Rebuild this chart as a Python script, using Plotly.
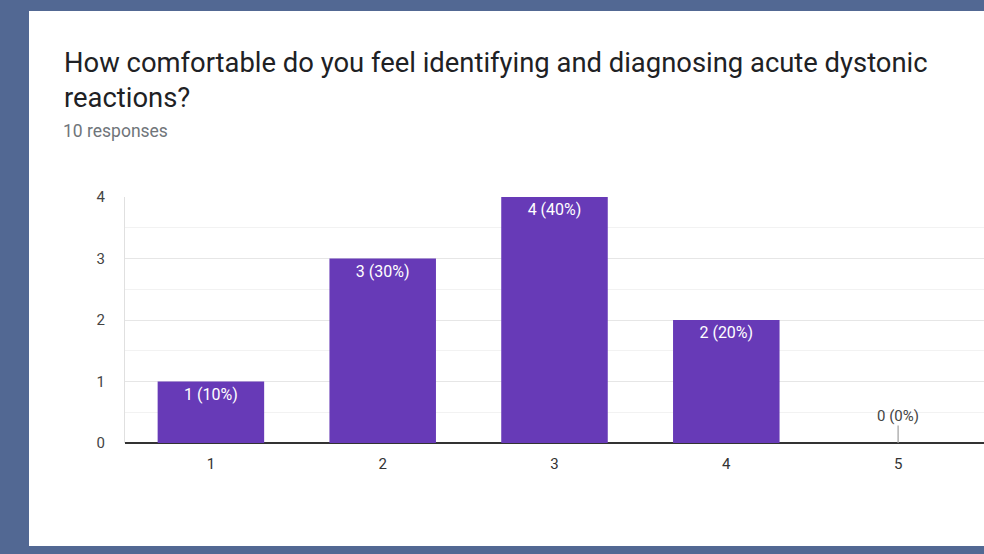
import plotly.graph_objects as go

# Survey results: rating scale 1-5, number of responses per rating
categories = ["1", "2", "3", "4", "5"]
counts = [1, 3, 4, 2, 0]
y_ticks = [0, 1, 2, 3, 4]

title_line1 = "How comfortable do you feel identifying and diagnosing acute dystonic"
title_line2 = "reactions?"
subtitle = "10 responses"

total = sum(counts)
labels = [f"{c} ({round(100 * c / total)}%)" for c in counts]

W, H = 984, 554
BORDER = "#526893"
PURPLE = "#673AB7"
FONT = "Roboto, Arial, sans-serif"

fig = go.Figure()
fig.add_trace(go.Bar(
    x=categories,
    y=counts,
    text=[lab if c > 0 else "" for lab, c in zip(labels, counts)],
    textposition="inside",
    insidetextanchor="end",
    textangle=0,
    textfont=dict(family=FONT, size=16, color="white"),
    marker=dict(color=PURPLE, line=dict(width=0)),
    width=0.62,
    hoverinfo="skip",
))

# zero-valued categories get a short leader line with their label
annotations = []
for i, (c, lab) in enumerate(zip(counts, labels)):
    if c == 0:
        annotations.append(dict(
            x=i, y=c, xref="x", yref="y", text=lab,
            showarrow=True, arrowhead=0, arrowwidth=1.2, arrowcolor="#a0a0a0",
            ax=0, ay=-27, standoff=0, borderpad=0,
            font=dict(family=FONT, size=15, color="#444"),
        ))

annotations += [
    dict(x=62 / W, y=1 - 63 / H, xref="paper", yref="paper", xanchor="left",
         yanchor="middle", showarrow=False, text=title_line1,
         font=dict(family=FONT, size=27.4, color="#202124")),
    dict(x=62 / W, y=1 - 98 / H, xref="paper", yref="paper", xanchor="left",
         yanchor="middle", showarrow=False, text=title_line2,
         font=dict(family=FONT, size=27.4, color="#202124")),
    dict(x=61 / W, y=1 - 131 / H, xref="paper", yref="paper", xanchor="left",
         yanchor="middle", showarrow=False, text=subtitle,
         font=dict(family=FONT, size=17.5, color="#70757a")),
]

fig.update_layout(
    width=W, height=H, autosize=False,
    margin=dict(l=0, r=0, t=0, b=0, pad=0, autoexpand=False),
    paper_bgcolor=BORDER,
    plot_bgcolor="white",
    showlegend=False,
    shapes=[dict(type="rect", xref="paper", yref="paper", layer="below",
                 x0=29 / W, x1=1.0, y0=1 - 546 / H, y1=1 - 11 / H,
                 fillcolor="white", line=dict(width=0))],
    annotations=annotations,
    xaxis=dict(
        domain=[125 / W, 1.0],
        type="category",
        range=[-0.5, 4.5],
        automargin=False,
        showgrid=False, ticks="",
        ticklabelstandoff=10,
        tickfont=dict(family=FONT, size=15, color="#333"),
        showline=False, zeroline=False,
    ),
    yaxis=dict(
        domain=[1 - 443 / H, 1 - 197 / H],
        range=[0, 4],
        automargin=False,
        tickvals=y_ticks,
        showgrid=True, gridcolor="#e6e6e6", gridwidth=1,
        minor=dict(dtick=0.5, showgrid=True, gridcolor="#f2f2f2", gridwidth=1),
        zeroline=True, zerolinecolor="#333", zerolinewidth=1.5,
        showline=True, linecolor="#e0e0e0", linewidth=1,
        ticks="", ticklabelstandoff=16,
        tickfont=dict(family=FONT, size=15, color="#444"),
        fixedrange=True,
    ),
)

fig.write_html("out.html")
